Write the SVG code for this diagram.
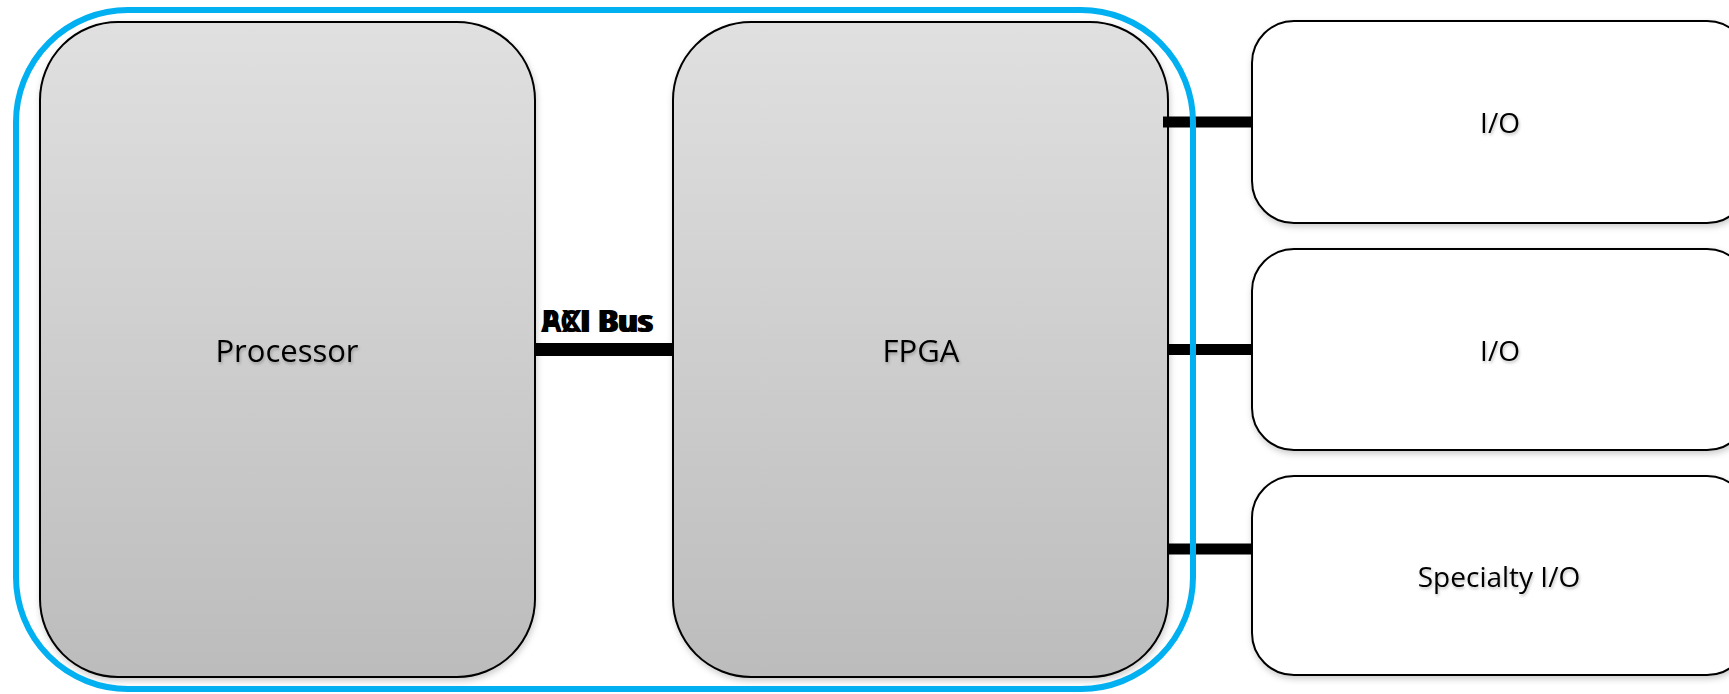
<svg xmlns="http://www.w3.org/2000/svg" width="1729" height="694" viewBox="0 0 1729 694">
  <defs>
    <linearGradient id="grayFill" x1="0" y1="0" x2="0" y2="1">
      <stop offset="0" stop-color="#E0E0E0"/>
      <stop offset="1" stop-color="#BCBCBC"/>
    </linearGradient>
    <filter id="shadow" x="-5%" y="-5%" width="110%" height="110%">
      <feDropShadow dx="1" dy="3" stdDeviation="3" flood-color="#000" flood-opacity="0.2"/>
    </filter>
    <filter id="tshadow" x="-10%" y="-30%" width="120%" height="160%">
      <feDropShadow dx="1" dy="2" stdDeviation="1.5" flood-color="#000" flood-opacity="0.25"/>
    </filter>
  </defs>
  <style>
    .big { fill: url(#grayFill); stroke: #000; stroke-width: 2; }
    .io { fill: #FFFFFF; stroke: #000; stroke-width: 2; }
    .lbl { font-family: "Open Sans", "Liberation Sans", sans-serif; fill: #000; text-anchor: middle; }
    .bus { font-family: "Open Sans", "Liberation Sans", sans-serif; font-weight: bold; font-size: 30px; fill: #000; }
    .wire { stroke: #000; fill: none; }
    .border { fill: none; stroke: #00B0F0; stroke-width: 6; }
  </style>
  <rect width="1729" height="694" fill="#FFFFFF"/>

  <g id="processor" filter="url(#shadow)">
    <rect class="big" x="40" y="22" width="495" height="655" rx="78" ry="78"/>
    <text class="lbl" x="287" y="362" font-size="31" filter="url(#tshadow)">Processor</text>
  </g>

  <g id="fpga" filter="url(#shadow)">
    <rect class="big" x="673" y="22" width="495" height="655" rx="78" ry="78"/>
    <text class="lbl" x="921" y="362" font-size="31" filter="url(#tshadow)">FPGA</text>
  </g>

  <g id="io1" filter="url(#shadow)">
    <rect class="io" x="1252" y="21" width="497" height="202" rx="42" ry="42"/>
    <text class="lbl" x="1500" y="133" font-size="28" filter="url(#tshadow)">I/O</text>
  </g>

  <g id="io2" filter="url(#shadow)">
    <rect class="io" x="1252" y="249" width="497" height="201" rx="42" ry="42"/>
    <text class="lbl" x="1500" y="361" font-size="28" filter="url(#tshadow)">I/O</text>
  </g>

  <g id="io3" filter="url(#shadow)">
    <rect class="io" x="1252" y="476" width="497" height="199" rx="42" ry="42"/>
    <text class="lbl" x="1499" y="587" font-size="28" filter="url(#tshadow)">Specialty I/O</text>
  </g>

  <g id="connectors">
    <line class="wire" x1="535" y1="349.5" x2="673" y2="349.5" stroke-width="13"/>
    <line class="wire" x1="1163" y1="122" x2="1252" y2="122" stroke-width="11"/>
    <line class="wire" x1="1168" y1="349.5" x2="1252" y2="349.5" stroke-width="11"/>
    <line class="wire" x1="1168" y1="549" x2="1252" y2="549" stroke-width="11"/>
  </g>

  <g id="bus-labels">
    <text class="bus" x="541" y="332">PCI Bus</text>
    <text class="bus" x="541" y="332">AXI Bus</text>
  </g>

  <g id="container">
    <rect class="border" x="16" y="10" width="1177" height="679" rx="112" ry="112"/>
  </g>
</svg>
